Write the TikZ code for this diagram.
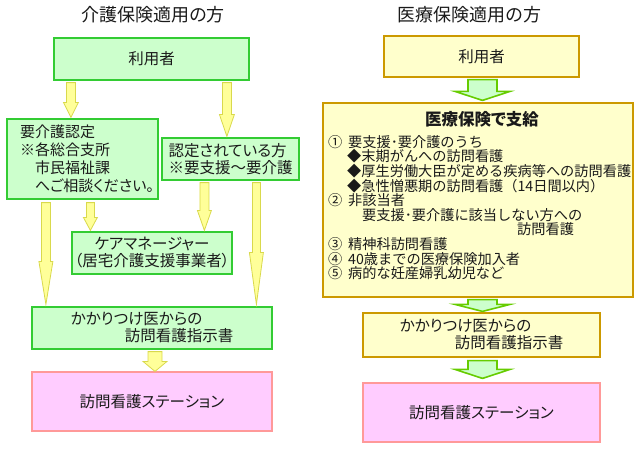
\documentclass[tikz,border=0pt]{standalone}
\usepackage{fontspec}
\setmainfont{Noto Sans CJK JP}[RawFeature=+palt]
\newfontfamily\fixjp{Noto Sans CJK JP}
\usetikzlibrary{calc}
\definecolor{mint}{HTML}{CCFFCC}
\definecolor{grass}{HTML}{33CC33}
\definecolor{cream}{HTML}{FFFFCC}
\definecolor{gold}{HTML}{CC9900}
\definecolor{blush}{HTML}{FFCCFF}
\definecolor{rose}{HTML}{FF9999}
\definecolor{lemon}{HTML}{FFFF99}
\definecolor{straw}{HTML}{D9D94C}
\definecolor{lime}{HTML}{66CC00}
\definecolor{ink}{HTML}{1A1A1A}
\tikzset{
  box/.style={draw=#1,line width=1.2pt,inner sep=0pt,align=left,text=ink,
    font=\fontsize{15.5}{17}\selectfont},
  gbox/.style={box=grass,fill=mint},
  ybox/.style={box=gold,fill=cream},
  pbox/.style={box=rose,fill=blush},
  head/.style={font=\fontsize{18}{22}\selectfont,text=ink},
  yarrow/.style={draw=straw,fill=lemon,line width=0.8pt},
  garrow/.style={draw=lime,fill=mint,line width=1.6pt},
}
% block arrow: style, from, to, half shaft, half head, head length
\newcommand\blockarrow[6]{%
  \draw[#1] let \p1=#2, \p2=#3 in
    (\x1-#4pt,\y1) -- (\x1+#4pt,\y1) -- (\x1+#4pt,\y2+#6pt)
    -- (\x1+#5pt,\y2+#6pt) -- (\x1,\y2) -- (\x1-#5pt,\y2+#6pt)
    -- (\x1-#4pt,\y2+#6pt) -- cycle;}

\begin{document}
\begin{tikzpicture}[x=1pt,y=-1pt]
  \useasboundingbox (0,0) rectangle (640,450);
  % 介護保険
  \node[head] (kaigo) at (153,15) {介護保険適用の方};
  \node[gbox,minimum width=195pt,minimum height=42pt] (lu) at (151.5,59) {利用者};
  \node[gbox,minimum width=151pt,minimum height=80pt,inner xsep=13pt,text width=125pt,
    font=\fontsize{15}{18}\selectfont] (lreq) at (82.5,159)
    {要介護認定\\※各総合支所\\\hspace*{1em}市民福祉課\\\hspace*{1em}へご相談ください。};
  \node[gbox,minimum width=137pt,minimum height=42pt] (lcert) at (230.5,159) {認定されている方\\※要支援～要介護};
  \node[gbox,minimum width=160pt,minimum height=42pt,align=center] (lcm) at (152,253) {ケアマネージャー\\（居宅介護支援事業者）};
  \node[gbox,minimum width=240pt,minimum height=42pt] (ldoc) at (152,328) {かかりつけ医からの\\\hspace*{54pt}訪問看護指示書};
  \node[pbox,minimum width=240pt,minimum height=59pt] (lst) at (152,401.5) {訪問看護ステーション};
  \blockarrow{yarrow}{([xshift=17.5pt,yshift=-2pt]lu.south west)}{([yshift=1pt]lreq.north)}{4.5}{7.5}{15}
  \blockarrow{yarrow}{([xshift=173.5pt,yshift=-2pt]lu.south west)}{([yshift=1pt]lcert.north)}{4.5}{7.5}{22}
  \blockarrow{yarrow}{([xshift=39.5pt,yshift=-3pt]lreq.south west)}{([yshift=2pt]ldoc.north)}{4.5}{7}{43}
  \blockarrow{yarrow}{([xshift=84pt,yshift=-3pt]lreq.south west)}{([yshift=1pt]lcm.north)}{4}{7}{13}
  \blockarrow{yarrow}{([xshift=43pt,yshift=-2pt]lcert.south west)}{([yshift=1pt]lcm.north)}{4.5}{7}{20}
  \blockarrow{yarrow}{([xshift=95pt,yshift=-2pt]lcert.south west)}{([yshift=2pt]ldoc.north)}{4}{7}{52}
  \blockarrow{yarrow}{([xshift=3pt,yshift=-2pt]ldoc.south)}{(lst.north)}{7}{12}{10}
  % 医療保険
  \node[head] (iryo) at (469.5,15) {医療保険適用の方};
  \node[ybox,minimum width=195pt,minimum height=41pt] (ru) at (481.5,56.5) {利用者};
  \node[ybox,minimum width=310pt,minimum height=194pt] (rbig) at (478,200) {};
  \node[font=\bfseries\fontsize{16.5}{20}\selectfont,text=ink] (rtitle) at (482,119) {医療保険で支給};
  \node[anchor=north west,inner sep=0pt,align=left,text=ink,font=\fixjp\fontsize{14.2}{14.6}\selectfont] (rlist) at (328,135)
    {\makebox[20pt][l]{①}要支援･要介護のうち\\
     \hspace*{19pt}◆末期がんへの訪問看護\\
     \hspace*{19pt}◆厚生労働大臣が定める疾病等への訪問看護\\
     \hspace*{19pt}◆急性憎悪期の訪問看護（14日間以内）\\
     \makebox[20pt][l]{②}非該当者\\
     \hspace*{34pt}要支援･要介護に該当しない方への\\
     \hspace*{189pt}訪問看護\\
     \makebox[20pt][l]{③}精神科訪問看護\\
     \makebox[20pt][l]{④}40歳までの医療保険加入者\\
     \makebox[20pt][l]{⑤}病的な妊産婦乳幼児など};
  \node[ybox,minimum width=237pt,minimum height=44pt] (rdoc) at (481.5,335) {かかりつけ医からの\\\hspace*{55pt}訪問看護指示書};
  \node[pbox,minimum width=237pt,minimum height=59pt] (rst) at (481.5,412.5) {訪問看護ステーション};
  \blockarrow{garrow}{([xshift=1pt,yshift=-2pt]ru.south)}{([yshift=2pt]rbig.north)}{14.5}{27.5}{9}
  \blockarrow{garrow}{([xshift=1pt,yshift=-2pt]rdoc.north |- rbig.south)}{([yshift=1pt]rdoc.north)}{14.5}{27.5}{7}
  \blockarrow{garrow}{([xshift=1pt,yshift=-3pt]rdoc.south)}{([yshift=4pt]rst.north)}{14.5}{27.5}{9}
\end{tikzpicture}
\end{document}
